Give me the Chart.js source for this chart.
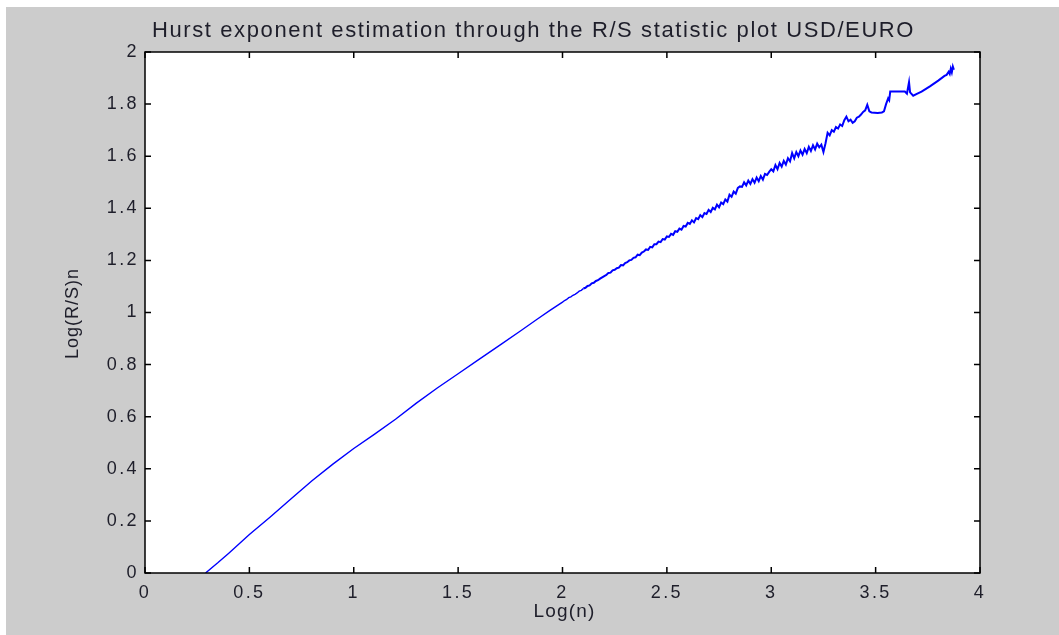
<!DOCTYPE html>
<html>
<head>
<meta charset="utf-8">
<script src="https://cdn.jsdelivr.net/npm/chart.js@4.4.1/dist/chart.umd.min.js"></script>
<style>
  html, body { margin: 0; padding: 0; background: #ffffff; }
  #frame { position: absolute; left: 6px; top: 7px; width: 1053px; height: 628px; background: #cccccc; }
  #wrap { position: absolute; left: 0; top: 0; width: 1059px; height: 635px; }
</style>
</head>
<body>
<div id="frame"></div>
<div id="wrap"><canvas id="c" width="1059" height="635"></canvas></div>
<script>
// ---- data ----
const titleText = "Hurst exponent estimation through the R/S statistic plot USD/EURO";
const xAxisTitle = "Log(n)";
const yAxisTitle = "Log(R/S)n";

const xTickValues = [0, 0.5, 1, 1.5, 2, 2.5, 3, 3.5, 4];
const xTickLabels = ["0", "0.5", "1", "1.5", "2", "2.5", "3", "3.5", "4"];
const yTickValues = [0, 0.2, 0.4, 0.6, 0.8, 1, 1.2, 1.4, 1.6, 1.8, 2];
const yTickLabels = ["0", "0.2", "0.4", "0.6", "0.8", "1", "1.2", "1.4", "1.6", "1.8", "2"];

const logN = [
  0.29, 0.35, 0.40, 0.50, 0.60, 0.70, 0.80, 0.90, 1.00, 1.10, 1.20, 1.30, 1.40, 1.50, 1.60, 1.70, 1.80, 1.88, 1.94,
  2.00, 2.01, 2.02, 2.03, 2.04, 2.05, 2.06, 2.07, 2.08, 2.09, 2.10, 2.11, 2.12, 2.13, 2.14, 2.15, 2.16, 2.17, 2.18, 2.19,
  2.20, 2.21, 2.22, 2.23, 2.24, 2.25, 2.26, 2.27, 2.28, 2.29, 2.30, 2.31, 2.32, 2.33, 2.34, 2.35, 2.36, 2.37, 2.38, 2.39,
  2.40, 2.41, 2.42, 2.43, 2.44, 2.45, 2.46, 2.47, 2.48, 2.49, 2.50, 2.51, 2.52, 2.53, 2.54, 2.55, 2.56, 2.57, 2.58, 2.59,
  2.60, 2.61, 2.62, 2.63, 2.64, 2.65, 2.66, 2.67, 2.68, 2.69, 2.70, 2.71, 2.72, 2.73, 2.74, 2.75, 2.76, 2.77, 2.78, 2.79,
  2.80, 2.81, 2.82, 2.83, 2.84, 2.85, 2.86, 2.87, 2.88, 2.89, 2.90, 2.91, 2.92, 2.93, 2.94, 2.95, 2.96, 2.97, 2.98, 2.99,
  3.00, 3.01, 3.02, 3.03, 3.04, 3.05, 3.06, 3.07, 3.08, 3.09, 3.10, 3.11, 3.12, 3.13, 3.14, 3.15, 3.16, 3.17, 3.18, 3.19,
  3.20, 3.21, 3.22, 3.23, 3.24, 3.25, 3.26, 3.27, 3.28, 3.29, 3.30, 3.31, 3.32, 3.33, 3.34, 3.35, 3.36, 3.37, 3.38, 3.39,
  3.40, 3.41, 3.42, 3.43, 3.44, 3.45, 3.46, 3.47, 3.48, 3.51, 3.53, 3.54, 3.55, 3.56, 3.565, 3.57, 3.60, 3.64, 3.65, 3.66,
  3.665, 3.68, 3.70, 3.72, 3.76, 3.80, 3.83, 3.84, 3.85, 3.855, 3.86, 3.865, 3.87, 3.875
];
const logRS = [
  0.000, 0.040, 0.075, 0.148, 0.215, 0.285, 0.354, 0.418, 0.478, 0.533, 0.590, 0.652, 0.710, 0.765, 0.820, 0.875, 0.930, 0.975, 1.008,
  1.040, 1.046, 1.050, 1.057, 1.060, 1.066, 1.070, 1.075, 1.082, 1.085, 1.092, 1.095, 1.102, 1.104, 1.112, 1.114, 1.121, 1.124, 1.130, 1.135,
  1.140, 1.144, 1.152, 1.153, 1.162, 1.164, 1.170, 1.172, 1.182, 1.181, 1.190, 1.193, 1.200, 1.202, 1.210, 1.212, 1.222, 1.220, 1.230, 1.234,
  1.242, 1.240, 1.252, 1.250, 1.262, 1.262, 1.272, 1.270, 1.282, 1.280, 1.292, 1.290, 1.302, 1.298, 1.312, 1.310, 1.322, 1.318, 1.332, 1.330,
  1.344, 1.340, 1.354, 1.346, 1.362, 1.358, 1.374, 1.366, 1.382, 1.378, 1.394, 1.386, 1.402, 1.396, 1.414, 1.404, 1.422, 1.416, 1.434, 1.426,
  1.452, 1.444, 1.464, 1.456, 1.478, 1.484, 1.482, 1.500, 1.488, 1.506, 1.494, 1.512, 1.498, 1.518, 1.504, 1.524, 1.510, 1.532, 1.528, 1.540,
  1.550, 1.542, 1.566, 1.550, 1.574, 1.560, 1.582, 1.568, 1.592, 1.580, 1.612, 1.592, 1.616, 1.600, 1.622, 1.606, 1.628, 1.612, 1.636, 1.620,
  1.642, 1.626, 1.648, 1.634, 1.644, 1.616, 1.650, 1.690, 1.680, 1.700, 1.694, 1.712, 1.706, 1.722, 1.716, 1.738, 1.752, 1.734, 1.740, 1.728,
  1.734, 1.748, 1.752, 1.760, 1.770, 1.776, 1.797, 1.772, 1.768, 1.766, 1.768, 1.772, 1.800, 1.822, 1.815, 1.848, 1.848, 1.848, 1.840, 1.884,
  1.845, 1.832, 1.840, 1.848, 1.868, 1.890, 1.908, 1.912, 1.924, 1.916, 1.936, 1.922, 1.944, 1.932
];

const points = logN.map((x, i) => ({ x: x, y: logRS[i] }));

const FONT = "'Liberation Sans', Arial, sans-serif";
const TEXT = "#1e1e2a";

const framePlugin = {
  id: 'frame',
  beforeDraw(chart) {
    const { ctx, chartArea: a } = chart;
    ctx.save();
    ctx.fillStyle = '#ffffff';
    ctx.fillRect(a.left, a.top, a.right - a.left, a.bottom - a.top);
    ctx.restore();
    ctx.letterSpacing = '2.4px';
  },
  afterDraw(chart) {
    const { ctx, chartArea: a, scales } = chart;
    ctx.save();
    ctx.strokeStyle = '#000000';
    ctx.lineWidth = 1.5;
    ctx.strokeRect(a.left, a.top, a.right - a.left, a.bottom - a.top);
    const t = 6;
    ctx.beginPath();
    xTickValues.forEach(v => {
      const px = scales.x.getPixelForValue(v);
      ctx.moveTo(px, a.bottom); ctx.lineTo(px, a.bottom - t);
      ctx.moveTo(px, a.top); ctx.lineTo(px, a.top + t);
    });
    yTickValues.forEach(v => {
      const py = scales.y.getPixelForValue(v);
      ctx.moveTo(a.left, py); ctx.lineTo(a.left + t, py);
      ctx.moveTo(a.right, py); ctx.lineTo(a.right - t, py);
    });
    ctx.stroke();
    ctx.fillStyle = TEXT;
    // chart title
    ctx.letterSpacing = '1.6px';
    ctx.font = "22px " + FONT;
    ctx.textAlign = 'left';
    ctx.textBaseline = 'alphabetic';
    ctx.fillText(titleText, 152, 37);
    // x axis title
    ctx.letterSpacing = '1.2px';
    ctx.font = "19px " + FONT;
    ctx.textAlign = 'center';
    ctx.textBaseline = 'middle';
    ctx.fillText(xAxisTitle, (a.left + a.right) / 2 + 2, 612);
    // y axis title
    ctx.letterSpacing = '1px';
    ctx.font = "18px " + FONT;
    ctx.translate(73, (a.top + a.bottom) / 2 + 1);
    ctx.rotate(-Math.PI / 2);
    ctx.fillText(yAxisTitle, 0, 0);
    ctx.restore();
  }
};

new Chart(document.getElementById('c'), {
  type: 'scatter',
  data: {
    datasets: [{
      data: points,
      showLine: true,
      borderColor: '#0000ff',
      backgroundColor: '#0000ff',
      borderWidth: 1.8,
      segment: { borderWidth: c => (c.p0.parsed.x < 2.1 ? 1.4 : 2.0) },
      pointRadius: 0,
      tension: 0
    }]
  },
  options: {
    responsive: false,
    animation: false,
    layout: { padding: { left: 0, right: 79, top: 52, bottom: 0 } },
    plugins: { legend: { display: false }, tooltip: { enabled: false }, title: { display: false } },
    scales: {
      x: {
        type: 'linear', min: 0, max: 4,
        afterBuildTicks: s => { s.ticks = xTickValues.map(v => ({ value: v })); },
        afterFit: s => { s.height = 62; },
        grid: { display: false, drawTicks: false },
        border: { display: false },
        ticks: {
          color: TEXT, font: { family: FONT, size: 18 }, padding: 9, maxRotation: 0, autoSkip: false,
          callback: (v) => { const i = xTickValues.indexOf(v); return i >= 0 ? xTickLabels[i] : ''; }
        },
        title: { display: false }
      },
      y: {
        type: 'linear', min: 0, max: 2,
        afterBuildTicks: s => { s.ticks = yTickValues.map(v => ({ value: v })); },
        afterFit: s => { s.width = 145; },
        grid: { display: false, drawTicks: false },
        border: { display: false },
        ticks: {
          color: TEXT, font: { family: FONT, size: 18 }, padding: 6, autoSkip: false,
          callback: (v) => { const i = yTickValues.findIndex(t => Math.abs(t - v) < 1e-9); return i >= 0 ? yTickLabels[i] : ''; }
        },
        title: { display: false }
      }
    }
  },
  plugins: [framePlugin]
});
</script>
</body>
</html>
